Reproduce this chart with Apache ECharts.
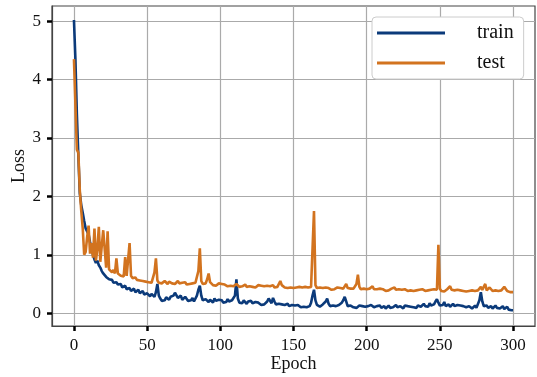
<!DOCTYPE html>
<html>
<head>
<meta charset="utf-8">
<script src="https://cdn.jsdelivr.net/npm/echarts@6/dist/echarts.min.js"></script>
<style>html,body{margin:0;padding:0;background:#fff;}#c{width:537px;height:377px;}</style>
</head>
<body>
<div id="c"></div>
<script>
const seriesNames = ['train', 'test'];
const xTicks = [0, 50, 100, 150, 200, 250, 300];
const yTicks = [0, 1, 2, 3, 4, 5];

// loss per epoch, epoch = index (0..300)
const trainLoss = [
  5.02, 4.35, 3.40, 2.70, 2.05, 1.85, 1.72, 1.58, 1.45, 1.40,
  1.35, 1.22, 1.10, 1.00, 0.92, 0.86, 0.90, 0.82, 0.78, 0.72,
  0.68, 0.66, 0.62, 0.60, 0.58, 0.55, 0.57, 0.52, 0.50, 0.53,
  0.49, 0.46, 0.50, 0.44, 0.42, 0.47, 0.41, 0.40, 0.43, 0.38,
  0.37, 0.42, 0.36, 0.35, 0.40, 0.34, 0.33, 0.38, 0.32, 0.35,
  0.34, 0.31, 0.29, 0.33, 0.30, 0.28, 0.36, 0.50, 0.30, 0.25,
  0.21, 0.24, 0.22, 0.27, 0.25, 0.23, 0.28, 0.26, 0.30, 0.35,
  0.38, 0.26, 0.24, 0.30, 0.23, 0.22, 0.28, 0.25, 0.21, 0.24,
  0.22, 0.26, 0.20, 0.23, 0.30, 0.40, 0.47, 0.30, 0.22, 0.20,
  0.24, 0.21, 0.19, 0.23, 0.22, 0.18, 0.25, 0.21, 0.19, 0.23,
  0.20, 0.22, 0.18, 0.21, 0.19, 0.24, 0.20, 0.17, 0.22, 0.19,
  0.30, 0.58, 0.25, 0.18, 0.20, 0.17, 0.22, 0.19, 0.16, 0.20,
  0.18, 0.21, 0.17, 0.15, 0.19, 0.16, 0.18, 0.15, 0.14, 0.17,
  0.15, 0.18, 0.20, 0.25, 0.22, 0.17, 0.26, 0.20, 0.15, 0.14,
  0.16, 0.13, 0.15, 0.12, 0.14, 0.13, 0.16, 0.12, 0.11, 0.14,
  0.12, 0.13, 0.11, 0.14, 0.12, 0.10, 0.13, 0.11, 0.12, 0.10,
  0.13, 0.12, 0.18, 0.30, 0.40, 0.22, 0.14, 0.12, 0.11, 0.13,
  0.15, 0.12, 0.20, 0.25, 0.16, 0.12, 0.11, 0.13, 0.10, 0.12,
  0.11, 0.14, 0.12, 0.18, 0.22, 0.28, 0.20, 0.12, 0.10, 0.13,
  0.11, 0.10, 0.12, 0.09, 0.11, 0.13, 0.10, 0.12, 0.09, 0.11,
  0.10, 0.12, 0.09, 0.14, 0.11, 0.10, 0.08, 0.12, 0.10, 0.13,
  0.09, 0.11, 0.12, 0.08, 0.10, 0.13, 0.09, 0.11, 0.10, 0.12,
  0.14, 0.10, 0.09, 0.12, 0.11, 0.08, 0.13, 0.10, 0.12, 0.09,
  0.11, 0.14, 0.10, 0.12, 0.09, 0.13, 0.15, 0.11, 0.10, 0.16,
  0.12, 0.14, 0.11, 0.17, 0.13, 0.12, 0.15, 0.20, 0.24, 0.18,
  0.13, 0.10, 0.14, 0.19, 0.12, 0.10, 0.15, 0.11, 0.13, 0.16,
  0.12, 0.09, 0.14, 0.11, 0.13, 0.10, 0.12, 0.15, 0.10, 0.09,
  0.12, 0.10, 0.08, 0.11, 0.13, 0.09, 0.12, 0.22, 0.36, 0.20,
  0.12, 0.10, 0.13, 0.09, 0.11, 0.12, 0.08, 0.10, 0.13, 0.09,
  0.11, 0.08, 0.10, 0.12, 0.07, 0.09, 0.11, 0.06, 0.08, 0.05,
  0.05
];

const testLoss = [
  4.35, 4.35, 2.80, 2.75, 2.10, 1.75, 1.45, 1.00, 1.05, 1.30,
  1.50, 1.02, 1.20, 0.95, 1.45, 0.90, 1.10, 1.48, 0.88, 0.85,
  1.42, 1.40, 0.78, 1.40, 0.75, 0.72, 0.70, 0.74, 0.68, 0.94,
  0.68, 0.66, 0.64, 0.66, 0.63, 0.96, 0.64, 0.62, 1.20, 0.64,
  0.60, 0.58, 0.61, 0.57, 0.59, 0.56, 0.58, 0.55, 0.57, 0.54,
  0.56, 0.53, 0.55, 0.52, 0.54, 0.70, 0.94, 0.56, 0.52, 0.54,
  0.51, 0.53, 0.55, 0.52, 0.50, 0.54, 0.52, 0.51, 0.53, 0.50,
  0.52, 0.55, 0.51, 0.49, 0.52, 0.50, 0.53, 0.49, 0.51, 0.50,
  0.48, 0.51, 0.49, 0.52, 0.50, 0.72, 1.11, 0.55, 0.50, 0.49,
  0.51, 0.58, 0.68, 0.53, 0.50, 0.48, 0.50, 0.47, 0.49, 0.51,
  0.48, 0.50, 0.47, 0.49, 0.48, 0.46, 0.49, 0.47, 0.50, 0.46,
  0.48, 0.50, 0.47, 0.45, 0.48, 0.46, 0.47, 0.49, 0.45, 0.47,
  0.46, 0.48, 0.45, 0.47, 0.44, 0.46, 0.48, 0.45, 0.47, 0.44,
  0.46, 0.45, 0.47, 0.44, 0.46, 0.45, 0.48, 0.44, 0.46, 0.45,
  0.47, 0.55, 0.48, 0.45, 0.44, 0.46, 0.43, 0.45, 0.44, 0.46,
  0.43, 0.45, 0.44, 0.42, 0.45, 0.43, 0.44, 0.42, 0.45, 0.43,
  0.44, 0.42, 0.45, 0.43, 1.75, 0.48, 0.43, 0.42, 0.44, 0.41,
  0.43, 0.42, 0.44, 0.41, 0.43, 0.42, 0.40, 0.43, 0.41, 0.42,
  0.44, 0.41, 0.43, 0.40, 0.42, 0.45, 0.50, 0.43, 0.41, 0.42,
  0.40, 0.42, 0.44, 0.50, 0.66, 0.45, 0.41, 0.40, 0.42, 0.39,
  0.41, 0.40, 0.42, 0.44, 0.46, 0.41, 0.39, 0.41, 0.40, 0.42,
  0.39, 0.41, 0.40, 0.38, 0.41, 0.39, 0.40, 0.42, 0.39, 0.44,
  0.40, 0.38, 0.41, 0.39, 0.40, 0.38, 0.41, 0.39, 0.38, 0.40,
  0.39, 0.41, 0.38, 0.40, 0.39, 0.37, 0.40, 0.38, 0.41, 0.39,
  0.38, 0.40, 0.39, 0.37, 0.40, 0.38, 0.41, 0.39, 0.40, 1.17,
  0.42, 0.38, 0.40, 0.37, 0.39, 0.41, 0.38, 0.46, 0.40, 0.38,
  0.39, 0.37, 0.40, 0.38, 0.39, 0.36, 0.38, 0.40, 0.37, 0.39,
  0.38, 0.36, 0.39, 0.37, 0.38, 0.36, 0.39, 0.41, 0.45, 0.40,
  0.38, 0.50, 0.39, 0.37, 0.44, 0.46, 0.38, 0.36, 0.39, 0.37,
  0.38, 0.36, 0.39, 0.37, 0.45, 0.42, 0.38, 0.37, 0.36, 0.38,
  0.36
];

const toPairs = arr => arr.map((v, i) => [i, v]);
const FONT = 'Liberation Serif';
const TRAIN_COLOR = '#0b3a7a';
const TEST_COLOR = '#d2731f';

const chart = echarts.init(document.getElementById('c'), null, {renderer: 'canvas'});
chart.setOption({
  animation: false,
  backgroundColor: '#ffffff',
  grid: {
    left: 52, right: 2, top: 6, bottom: 51,
    outerBoundsMode: 'none', containLabel: false,
    show: true, borderColor: '#444', borderWidth: 1.2, backgroundColor: 'transparent'
  },
  legend: {
    data: [
      {name: seriesNames[0], icon: 'rect', itemStyle: {color: TRAIN_COLOR}},
      {name: seriesNames[1], icon: 'rect', itemStyle: {color: TEST_COLOR}}
    ],
    orient: 'vertical',
    left: 372, top: 17,
    padding: [6, 10, 6, 5],
    itemGap: 10,
    itemWidth: 68,
    itemHeight: 3,
    backgroundColor: '#ffffff',
    borderColor: '#cccccc',
    borderWidth: 1,
    borderRadius: 4,
    textStyle: {fontFamily: FONT, fontSize: 20, color: '#111', padding: [0, 0, 0, 27]}
  },
  xAxis: {
    type: 'value',
    min: -15, max: 315,
    name: 'Epoch', nameLocation: 'middle', nameGap: 29, nameMoveOverlap: false,
    nameTextStyle: {fontFamily: FONT, fontSize: 18, color: '#111'},
    axisLine: {show: true, onZero: false, lineStyle: {color: '#444', width: 1.2}},
    axisTick: {show: true, inside: false, length: 5, lineStyle: {color: '#000', width: 2.5}, customValues: xTicks},
    axisLabel: {fontFamily: FONT, fontSize: 17, color: '#111', margin: 11, customValues: xTicks},
    splitLine: {show: true, lineStyle: {color: '#aaaaaa', width: 1.2}}
  },
  yAxis: {
    type: 'value',
    min: -0.22, max: 5.26,
    name: 'Loss', nameLocation: 'middle', nameGap: 24, nameMoveOverlap: false,
    nameTextStyle: {fontFamily: FONT, fontSize: 18, color: '#111'},
    axisLine: {show: true, onZero: false, lineStyle: {color: '#444', width: 1.2}},
    axisTick: {show: true, inside: false, length: 5, lineStyle: {color: '#000', width: 2.5}, customValues: yTicks},
    axisLabel: {fontFamily: FONT, fontSize: 17, color: '#111', margin: 11, customValues: yTicks},
    splitLine: {show: true, lineStyle: {color: '#aaaaaa', width: 1.2}}
  },
  series: [
    {
      name: seriesNames[0], type: 'line', data: toPairs(trainLoss),
      symbol: 'none', color: TRAIN_COLOR,
      lineStyle: {width: 2.6, color: TRAIN_COLOR}, z: 2
    },
    {
      name: seriesNames[1], type: 'line', data: toPairs(testLoss),
      symbol: 'none', color: TEST_COLOR,
      lineStyle: {width: 2.6, color: TEST_COLOR}, z: 3
    }
  ]
});
</script>
</body>
</html>
